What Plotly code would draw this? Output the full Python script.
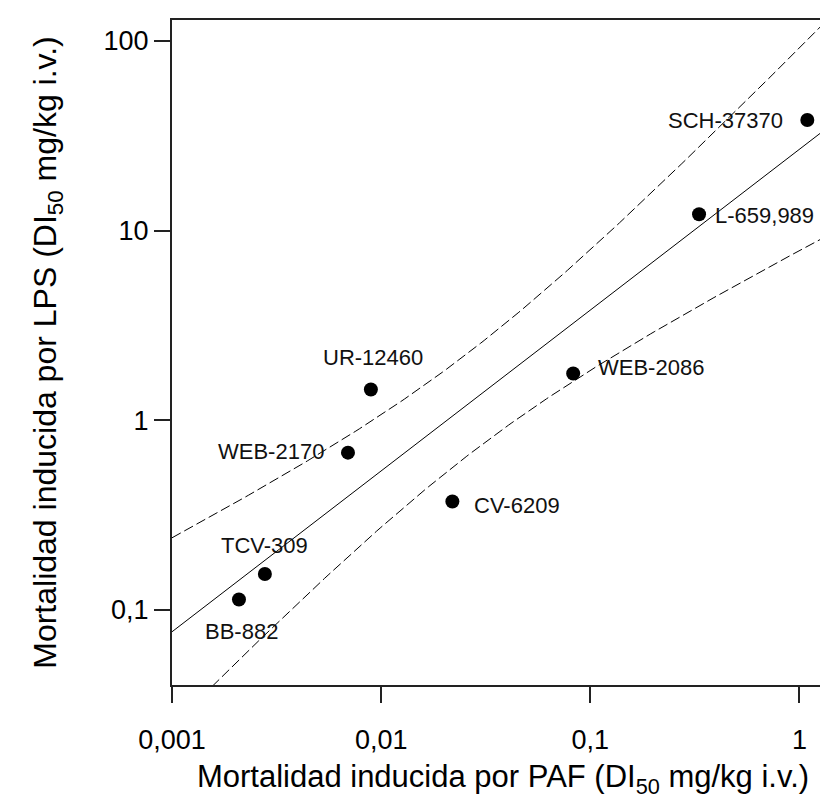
import numpy as np
import plotly.graph_objects as go

# ---- data ----
compounds = ["SCH-37370", "L-659,989", "WEB-2086", "UR-12460",
             "WEB-2170", "CV-6209", "TCV-309", "BB-882"]
paf_di50 = [1.09, 0.331, 0.0828, 0.00893, 0.00694, 0.0219, 0.00278, 0.00209]
lps_di50 = [38.3, 12.2, 1.76, 1.45, 0.673, 0.372, 0.154, 0.113]

x_tickvals = [0.001, 0.01, 0.1, 1]
x_ticktext = ["0,001", "0,01", "0,1", "1"]
y_tickvals = [0.1, 1, 10, 100]
y_ticktext = ["0,1", "1", "10", "100"]

# ---- label placement (style) ----
label_style = {
    "SCH-37370": dict(xanchor="right", xshift=-22, yshift=0),
    "L-659,989": dict(xanchor="left", xshift=14, yshift=-1),
    "WEB-2086": dict(xanchor="left", xshift=23, yshift=6),
    "UR-12460": dict(xanchor="center", xshift=2, yshift=32),
    "WEB-2170": dict(xanchor="right", xshift=-22, yshift=1),
    "CV-6209": dict(xanchor="left", xshift=20, yshift=-4),
    "TCV-309": dict(xanchor="center", xshift=0, yshift=29),
    "BB-882": dict(xanchor="center", xshift=3, yshift=-32),
}

FONT = "Liberation Sans, Arial, sans-serif"

# ---- regression on log scale with 95% confidence band ----
lx = np.log10(paf_di50)
ly = np.log10(lps_di50)
n = len(lx)
slope, intercept = np.polyfit(lx, ly, 1)
resid = ly - (intercept + slope * lx)
s = np.sqrt(np.sum(resid ** 2) / (n - 2))
sxx = np.sum((lx - lx.mean()) ** 2)
t_crit = 2.447  # t(0.975, df=6)
gx = np.linspace(-3.0, 0.3, 200)
fit = intercept + slope * gx
half = t_crit * s * np.sqrt(1.0 / n + (gx - lx.mean()) ** 2 / sxx)

fig = go.Figure()
fig.add_trace(go.Scatter(x=10 ** gx, y=10 ** fit, mode="lines",
                         line=dict(color="black", width=1), hoverinfo="skip"))
fig.add_trace(go.Scatter(x=10 ** gx, y=10 ** (fit + half), mode="lines",
                         line=dict(color="black", width=1, dash="10px,4px"), hoverinfo="skip"))
fig.add_trace(go.Scatter(x=10 ** gx, y=10 ** (fit - half), mode="lines",
                         line=dict(color="black", width=1, dash="10px,4px"), hoverinfo="skip"))
fig.add_trace(go.Scatter(x=paf_di50, y=lps_di50, mode="markers",
                         marker=dict(color="black", size=14, symbol="circle"),
                         text=compounds))

for name, xv, yv in zip(compounds, paf_di50, lps_di50):
    st = label_style[name]
    fig.add_annotation(x=np.log10(xv), y=np.log10(yv), text=name, showarrow=False,
                       xanchor=st["xanchor"], yanchor="middle",
                       xshift=st["xshift"], yshift=st["yshift"],
                       font=dict(family=FONT, size=22, color="#111"))

axis_common = dict(type="log", showgrid=False, zeroline=False,
                   showline=True, linecolor="#222", linewidth=2, mirror=True,
                   ticks="outside", ticklen=16, tickwidth=2, tickcolor="#222",
                   tickfont=dict(family=FONT, size=27, color="black"),
                   automargin=False)

fig.update_xaxes(**axis_common, range=[-3, 0.165],
                 tickvals=x_tickvals, ticktext=x_ticktext, ticklabelstandoff=14,
                 title=dict(text="Mortalidad inducida por PAF (DI<sub>50</sub> mg/kg i.v.)",
                            font=dict(family=FONT, size=31, color="black"), standoff=11))
fig.update_yaxes(**axis_common, range=[np.log10(0.04), 2.111],
                 tickvals=y_tickvals, ticktext=y_ticktext,
                 title=dict(text="Mortalidad inducida por LPS (DI<sub>50</sub> mg/kg i.v.)",
                            font=dict(family=FONT, size=32, color="black"), standoff=37))

fig.update_layout(width=828, height=805,
                  margin=dict(l=164, r=2, t=12, b=128),
                  paper_bgcolor="white", plot_bgcolor="white",
                  showlegend=False)

fig.write_html("out.html")
